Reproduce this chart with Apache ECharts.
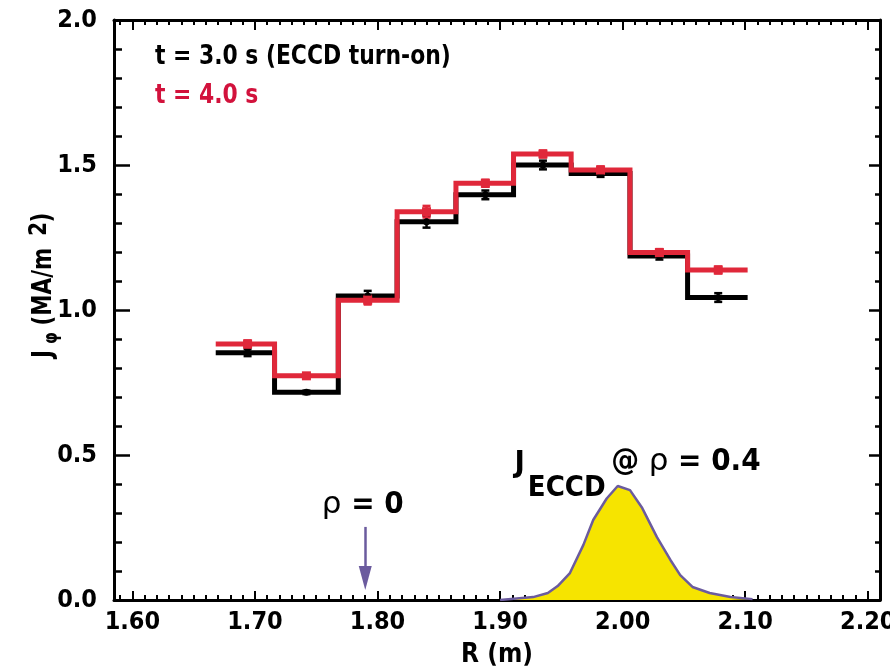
<!DOCTYPE html>
<html>
<head>
<meta charset="utf-8">
<script src="https://cdn.jsdelivr.net/npm/echarts@6/dist/echarts.min.js"></script>
<style>
  html, body { margin: 0; padding: 0; background: #fff; }
  #chart { width: 890px; height: 672px; }
</style>
</head>
<body>
<div id="chart"></div>
<script>
// Radial bin edges (m) of the MSE current-density reconstruction
const binEdges = [1.668, 1.716, 1.768, 1.816, 1.864, 1.911, 1.958, 2.006, 2.053, 2.102];
// Measurement positions (m) inside each bin
const binCenters = [1.694, 1.742, 1.792, 1.840, 1.888, 1.935, 1.982, 2.030, 2.078];
// J_phi (MA/m^2) at t = 3.0 s (ECCD turn-on)
const jT3 = [0.853, 0.716, 1.048, 1.304, 1.397, 1.500, 1.471, 1.186, 1.043];
const errT3 = [0.012, 0.006, 0.018, 0.020, 0.015, 0.015, 0.012, 0.012, 0.015];
// J_phi (MA/m^2) at t = 4.0 s
const jT4 = [0.883, 0.773, 1.034, 1.339, 1.437, 1.538, 1.483, 1.198, 1.138];
const errT4 = [0.012, 0.006, 0.015, 0.020, 0.012, 0.012, 0.012, 0.012, 0.012];
// ECCD current profile deposited at rho = 0.4
const eccdR = [1.900, 1.927, 1.939, 1.947, 1.957, 1.968, 1.976, 1.987, 1.996, 2.006, 2.016, 2.028, 2.039, 2.047, 2.057, 2.071, 2.088, 2.106];
const eccdJ = [0.000, 0.010, 0.024, 0.048, 0.093, 0.190, 0.276, 0.350, 0.393, 0.379, 0.317, 0.217, 0.138, 0.086, 0.045, 0.024, 0.010, 0.003];
// Axis ticks
const xMajorTicks = [1.60, 1.70, 1.80, 1.90, 2.00, 2.10, 2.20];
const xTickLabels = ['1.60', '1.70', '1.80', '1.90', '2.00', '2.10', '2.20'];
const yTickLabels = ['0.0', '0.5', '1.0', '1.5', '2.0'];
// Magnetic axis location (rho = 0)
const rhoZeroR = 1.79;

const X_MIN = 1.585, X_MAX = 2.21;
const FONT = '"DejaVu Sans Condensed", "Liberation Sans", sans-serif';
const BLACK = '#000000';
const RED = '#e0283a';
const RED_TEXT = '#d2123c';
const PURPLE = '#6b5b9e';
const YELLOW = '#f6e400';

const xMinorTicks = [];
for (let k = 159; k <= 221; k++) xMinorTicks.push(k / 100);

function stepPoints(edges, vals) {
  const pts = [];
  for (let i = 0; i < vals.length; i++) {
    pts.push([edges[i], vals[i]]);
    pts.push([edges[i + 1], vals[i]]);
  }
  return pts;
}

function errorSeries(name, vals, errs, color) {
  return {
    name: name,
    type: 'custom',
    z: 6,
    data: binCenters.map((r, i) => [r, vals[i], errs[i]]),
    encode: { x: 0, y: 1 },
    renderItem: function (params, api) {
      const r = api.value(0), v = api.value(1), e = api.value(2);
      const hi = api.coord([r, v + e]);
      const lo = api.coord([r, v - e]);
      const half = 4;
      const st = { stroke: color, lineWidth: 2.5 };
      return {
        type: 'group',
        children: [
          { type: 'line', shape: { x1: hi[0], y1: hi[1], x2: lo[0], y2: lo[1] }, style: st },
          { type: 'line', shape: { x1: hi[0] - half, y1: hi[1], x2: hi[0] + half, y2: hi[1] }, style: st },
          { type: 'line', shape: { x1: lo[0] - half, y1: lo[1], x2: lo[0] + half, y2: lo[1] }, style: st }
        ]
      };
    }
  };
}

const chart = echarts.init(document.getElementById('chart'), null, { renderer: 'canvas' });

const labelFont = { fontFamily: FONT, fontWeight: 'bold', fontSize: 25, color: BLACK };

const option = {
  animation: false,
  backgroundColor: '#ffffff',
  grid: { left: 114, top: 20, width: 766, height: 580, containLabel: false, outerBoundsMode: 'none' },
  xAxis: [
    {
      type: 'value', min: X_MIN, max: X_MAX, position: 'bottom',
      name: 'R (m)', nameLocation: 'middle', nameGap: 42,
      nameTextStyle: { fontFamily: FONT, fontWeight: 'bold', fontSize: 26, color: BLACK },
      axisLine: { show: true, lineStyle: { color: BLACK, width: 3 } },
      axisTick: { show: true, inside: true, length: 9, customValues: xMajorTicks, lineStyle: { color: BLACK, width: 2 } },
      axisLabel: Object.assign({ show: true, margin: 10, customValues: xMajorTicks,
        formatter: v => xTickLabels[xMajorTicks.findIndex(t => Math.abs(t - v) < 1e-6)] }, labelFont),
      splitLine: { show: false }
    },
    {
      type: 'value', min: X_MIN, max: X_MAX, position: 'bottom',
      axisLine: { show: false },
      axisTick: { show: true, inside: true, length: 5, customValues: xMinorTicks, lineStyle: { color: BLACK, width: 2 } },
      axisLabel: { show: false }, splitLine: { show: false }
    },
    {
      type: 'value', min: X_MIN, max: X_MAX, position: 'top',
      axisLine: { show: true, lineStyle: { color: BLACK, width: 3 } },
      axisTick: { show: true, inside: true, length: 10, customValues: xMajorTicks, lineStyle: { color: BLACK, width: 2 } },
      axisLabel: { show: false }, splitLine: { show: false }
    },
    {
      type: 'value', min: X_MIN, max: X_MAX, position: 'top',
      axisLine: { show: false },
      axisTick: { show: true, inside: true, length: 5, customValues: xMinorTicks, lineStyle: { color: BLACK, width: 2 } },
      axisLabel: { show: false }, splitLine: { show: false }
    }
  ],
  yAxis: [
    {
      type: 'value', min: 0, max: 2.0, interval: 0.5, position: 'left',
      axisLine: { show: true, lineStyle: { color: BLACK, width: 3 } },
      axisTick: { show: true, inside: true, length: 16, lineStyle: { color: BLACK, width: 2.5 } },
      minorTick: { show: true, splitNumber: 5, length: 8, lineStyle: { color: BLACK, width: 2.5 } },
      axisLabel: Object.assign({ show: true, margin: 17,
        formatter: v => yTickLabels[Math.round(v / 0.5)] }, labelFont),
      splitLine: { show: false }, minorSplitLine: { show: false }
    },
    {
      type: 'value', min: 0, max: 2.0, interval: 0.5, position: 'right',
      axisLine: { show: true, lineStyle: { color: BLACK, width: 3 } },
      axisTick: { show: true, inside: true, length: 11, lineStyle: { color: BLACK, width: 2.5 } },
      minorTick: { show: true, splitNumber: 5, length: 5, lineStyle: { color: BLACK, width: 2.5 } },
      axisLabel: { show: false },
      splitLine: { show: false }, minorSplitLine: { show: false }
    }
  ],
  series: [
    {
      name: 'J_ECCD',
      type: 'line',
      data: eccdR.map((r, i) => [r, eccdJ[i]]),
      showSymbol: false,
      lineStyle: { color: PURPLE, width: 2.5 },
      areaStyle: { color: YELLOW, opacity: 1 },
      z: 2
    },
    {
      name: 't = 3.0 s',
      type: 'line',
      data: stepPoints(binEdges, jT3),
      showSymbol: false,
      lineStyle: { color: BLACK, width: 5, cap: 'butt', join: 'miter' },
      z: 3
    },
    errorSeries('t = 3.0 s error', jT3, errT3, BLACK),
    {
      name: 't = 3.0 s points',
      type: 'scatter',
      data: binCenters.map((r, i) => [r, jT3[i]]),
      symbol: 'circle', symbolSize: 7,
      itemStyle: { color: BLACK, opacity: 1 },
      z: 7
    },
    {
      name: 't = 4.0 s',
      type: 'line',
      data: stepPoints(binEdges, jT4),
      showSymbol: false,
      lineStyle: { color: RED, width: 5, cap: 'butt', join: 'miter' },
      z: 8
    },
    errorSeries('t = 4.0 s error', jT4, errT4, RED),
    {
      name: 't = 4.0 s points',
      type: 'scatter',
      data: binCenters.map((r, i) => [r, jT4[i]]),
      symbol: 'rect', symbolSize: 9,
      itemStyle: { color: RED, opacity: 1 },
      z: 10
    },
    {
      // text annotations and the rho = 0 marker arrow
      name: 'annotations',
      type: 'scatter',
      symbolSize: 0,
      silent: true,
      z: 12,
      itemStyle: { opacity: 1 },
      data: [
        { value: [1.788, 0.328], label: { formatter: '{r|ρ}{b| = 0}' } },
        { value: [1.916, 0.469], label: { formatter: '{b|J}' } },
        { value: [1.9544, 0.386], label: { formatter: '{s|ECCD}' } },
        { value: [2.0516, 0.476], label: { formatter: '{b|@ }{r|ρ}{b| = 0.4}' } }
      ],
      label: {
        show: true, position: 'inside', color: BLACK, opacity: 1, textBorderWidth: 0,
        rich: {
          b: { fontFamily: FONT, fontWeight: 'bold', fontSize: 31, color: BLACK, textBorderWidth: 0 },
          r: { fontFamily: '"DejaVu Sans", sans-serif', fontWeight: 'normal', fontSize: 31, color: BLACK, textBorderWidth: 0 },
          s: { fontFamily: FONT, fontWeight: 'bold', fontSize: 29, color: BLACK, textBorderWidth: 0 }
        }
      },
      markLine: {
        silent: true,
        symbol: ['none', 'triangle'],
        symbolSize: [13, 24],
        label: { show: false },
        lineStyle: { color: PURPLE, width: 2.5, type: 'solid', opacity: 1 },
        data: [[{ coord: [rhoZeroR, 0.252] }, { coord: [rhoZeroR, 0.076] }]]
      }
    }
  ],
  graphic: [
    {
      type: 'text', x: 155, y: 57, scaleX: 0.9,
      style: { text: 't = 3.0 s (ECCD turn-on)', fill: BLACK, font: 'bold 27px ' + FONT, verticalAlign: 'middle', align: 'left' }
    },
    {
      type: 'text', x: 155, y: 96, scaleX: 0.9,
      style: { text: 't = 4.0 s', fill: RED_TEXT, font: 'bold 27px ' + FONT, verticalAlign: 'middle', align: 'left' }
    },
    {
      // rotated y-axis title: J_phi (MA/m^2)
      type: 'group', x: 44, y: 358, rotation: Math.PI / 2, scaleX: 0.88,
      children: [
        { type: 'text', x: 0, y: 0, style: { text: 'J', fill: BLACK, font: 'bold 27px ' + FONT, verticalAlign: 'middle', align: 'left' } },
        { type: 'text', x: 16, y: 8, style: { text: 'φ', fill: BLACK, font: 'bold 19px ' + FONT, verticalAlign: 'middle', align: 'left' } },
        { type: 'text', x: 37, y: 0, style: { text: '(MA/m', fill: BLACK, font: 'bold 27px ' + FONT, verticalAlign: 'middle', align: 'left' } },
        { type: 'text', x: 139, y: -5, style: { text: '2', fill: BLACK, font: 'bold 25px ' + FONT, verticalAlign: 'middle', align: 'left' } },
        { type: 'text', x: 154, y: -1, style: { text: ')', fill: BLACK, font: 'bold 27px ' + FONT, verticalAlign: 'middle', align: 'left' } }
      ]
    }
  ]
};

chart.setOption(option);
</script>
</body>
</html>
